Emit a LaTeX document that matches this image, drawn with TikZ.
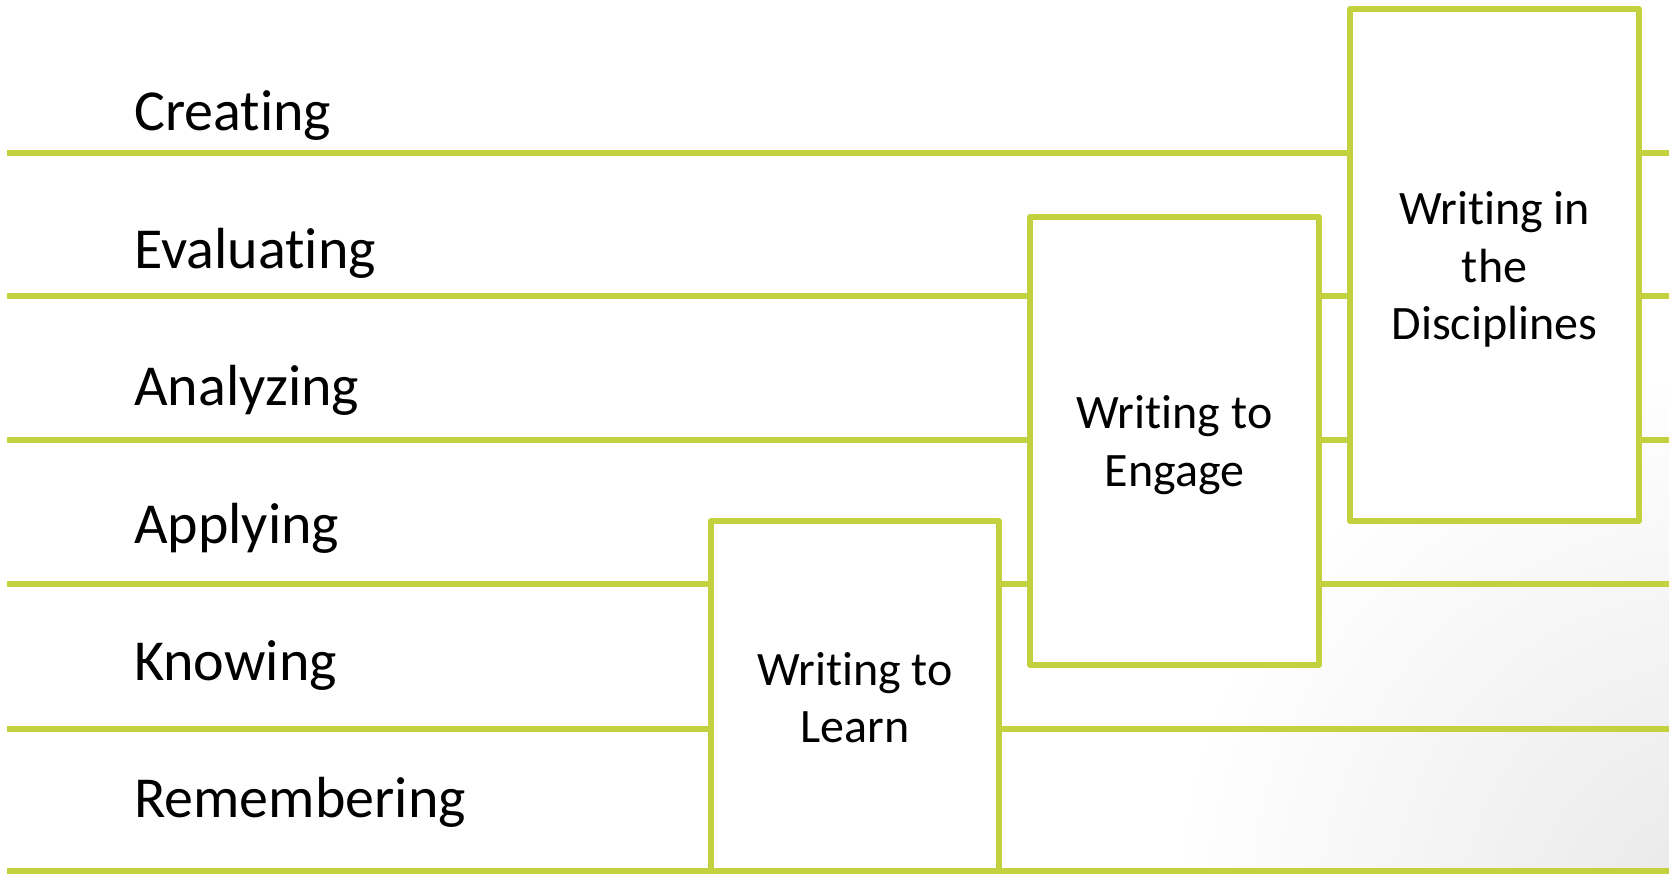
\documentclass[tikz,border=0pt]{standalone}
\usepackage{fontspec}
\setmainfont{Carlito}[Ligatures={NoCommon,NoContextual}]
\definecolor{lime}{RGB}{196,209,63}
\newcommand\myti{t\kern0pt i}
\begin{document}
\begin{tikzpicture}[x=1pt,y=-1pt,
  level/.style={draw=lime,line width=6pt},
  lbl/.style={anchor=base west,inner sep=0pt,font=\fontsize{58}{68}\selectfont},
  wbox/.style={draw=lime,line width=6pt,fill=white,rectangle,inner sep=0pt,
    line join=round},
  wtext/.style={align=center,inner sep=0pt,font=\fontsize{48}{57.5}\selectfont},
]
\useasboundingbox (0,0) rectangle (1669,873);
\fill[white] (0,0) rectangle (1669,873);
\begin{scope}
\clip (0,0) rectangle (1669,873);
\shade[inner color=black!9,outer color=white] (1710,910) circle (540);
\end{scope}
% level lines
\foreach \yy in {153,296,440,584,729,871}{
  \draw[level] (7,\yy) -- (1669,\yy);
}
% labels
\node[lbl] (cre) at (134,130) {Crea\myti ng};
\node[lbl] (eva) at (134,268) {Evalua\myti ng};
\node[lbl] (ana) at (134,405) {Analyzing};
\node[lbl] (app) at (134,543) {Applying};
\node[lbl] (kno) at (134,680) {Knowing};
\node[lbl] (rem) at (134,817) {Remembering};
% boxes
\node[wbox,minimum width=288pt,minimum height=350pt] (wtl) at (855,696) {};
\node[wbox,minimum width=289pt,minimum height=448pt] (wte) at (1174.5,441) {};
\node[wbox,minimum width=289pt,minimum height=512pt] (wid) at (1494.5,265) {};
\node[wtext] (wtlt) at ([yshift=-1.5pt]wtl.center) {Wri\myti ng to\\Learn};
\node[wtext] (wtet) at ([yshift=-4pt]wte.center) {Wri\myti ng to\\Engage};
\node[wtext] (widt) at ([yshift=-4.5pt]wid.center) {Wri\myti ng in\\the\\Disciplines};
\end{tikzpicture}
\end{document}
